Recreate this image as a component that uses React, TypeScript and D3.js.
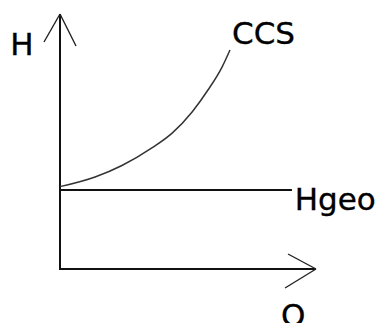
import React from "react";
import * as d3 from "d3";

const W = 378;
const H = 323;

// CCS curve (system characteristic): Q vs H
const ccsQ = [0, 13.7, 24.2, 35.9, 43.8, 51.6, 57.8, 63.3, 66.4];
const ccsH = [32.3, 36.1, 40.6, 47.5, 53.3, 61.6, 70.2, 79.2, 85.9];

// Static head line
const hgeoValue = 31.0;
const hgeoQEnd = 90.6;

const labels = { y: "H", x: "Q", curve: "CCS", line: "Hgeo" };

export default function App() {
  const x = d3.scaleLinear().domain([0, 100]).range([60, 316]);
  const y = d3.scaleLinear().domain([0, 100]).range([269, 14]);

  const line = d3
    .line<number>()
    .x((_, i) => x(ccsQ[i]))
    .y((d) => y(d))
    .curve(d3.curveMonotoneX);

  const x0 = x(0);
  const y0 = y(0);
  const xTip = x(100);
  const yTip = y(100);

  const font = "'DejaVu Sans', Verdana, sans-serif";
  const textProps = {
    fontFamily: font,
    fontSize: 31,
    fill: "#000",
    stroke: "#000",
    strokeWidth: 0.35,
  };

  return (
    <svg
      width={W}
      height={H}
      style={{ position: "absolute", left: 0, top: 0, background: "#fff" }}
    >
      <rect x={0} y={0} width={W} height={H} fill="#fff" />
      {/* axes */}
      <line x1={x0} y1={y0 + 1} x2={x0} y2={yTip} stroke="#111" strokeWidth={2} />
      <line x1={x0 - 1} y1={y0} x2={xTip} y2={y0} stroke="#111" strokeWidth={2} />
      {/* y arrow head */}
      <line x1={x0} y1={yTip} x2={x0 - 16} y2={yTip + 28} stroke="#222" strokeWidth={1.4} />
      <line x1={x0} y1={yTip} x2={x0 + 16} y2={yTip + 32} stroke="#222" strokeWidth={1.4} />
      {/* x arrow head */}
      <line x1={xTip} y1={y0} x2={xTip - 28} y2={y0 - 15} stroke="#222" strokeWidth={1.4} />
      <line x1={xTip} y1={y0} x2={xTip - 31} y2={y0 + 19} stroke="#222" strokeWidth={1.4} />
      {/* Hgeo line */}
      <line
        x1={x0}
        y1={y(hgeoValue)}
        x2={x(hgeoQEnd)}
        y2={y(hgeoValue)}
        stroke="#111"
        strokeWidth={2}
      />
      {/* CCS curve */}
      <path d={line(ccsH) || ""} fill="none" stroke="#333" strokeWidth={1.5} />
      {/* labels */}
      <text x={10.3} y={54.5} {...textProps}>
        {labels.y}
      </text>
      <text x={232} y={43.5} {...textProps}>
        {labels.curve}
      </text>
      <text x={294.7} y={209.5} {...textProps}>
        {labels.line}
      </text>
      <text x={281} y={326} {...textProps}>
        {labels.x}
      </text>
    </svg>
  );
}
